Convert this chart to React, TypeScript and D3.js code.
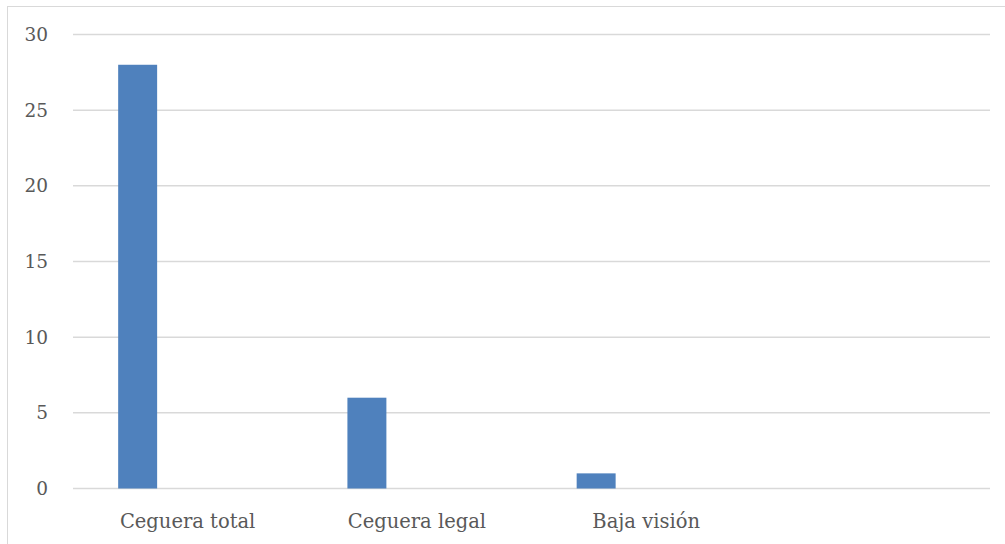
import React from "react";
import * as d3 from "d3";

const categories = ["Ceguera total", "Ceguera legal", "Baja visión", ""];
const values: (number | null)[] = [28, 6, 1, null];
const yTicks = [0, 5, 10, 15, 20, 25, 30];

export default function App() {
  const W = 1005;
  const H = 544;
  const left = 73;
  const right = 990;
  const top = 34.5;
  const bottom = 488.5;

  const x = d3.scaleBand<string>().domain(categories.map((c, i) => String(i))).range([left, right]).padding(0);
  const y = d3.scaleLinear().domain([0, 30]).range([bottom, top]);
  const bw = x.bandwidth();
  const barOff = bw * 0.197;
  const barW = bw * 0.17;
  const font = "'DejaVu Serif', serif";

  return (
    <svg width={W} height={H} style={{ position: "absolute", left: 0, top: 0, background: "#fff" }}>
      <rect x={7.5} y={6.5} width={1010} height={560} fill="#fff" stroke="#d9d9d9" strokeWidth={1} />
      {yTicks.map((t) => (
        <g key={t}>
          <line x1={left} x2={right} y1={y(t)} y2={y(t)} stroke="#d9d9d9" strokeWidth={1.5} />
          <text x={48} y={y(t)} dy="0.35em" textAnchor="end" fontFamily={font} fontSize={18.5} fill="#595959">
            {t}
          </text>
        </g>
      ))}
      {values.map((v, i) =>
        v == null ? null : (
          <rect
            key={i}
            x={(x(String(i)) as number) + barOff}
            y={y(v)}
            width={barW}
            height={y(0) - y(v)}
            fill="#4f81bd"
          />
        )
      )}
      {categories.map((c, i) => (
        <text
          key={i}
          x={(x(String(i)) as number) + bw / 2}
          y={528}
          textAnchor="middle"
          fontFamily={font}
          fontSize={19.5}
          fill="#595959"
        >
          {c}
        </text>
      ))}
    </svg>
  );
}
